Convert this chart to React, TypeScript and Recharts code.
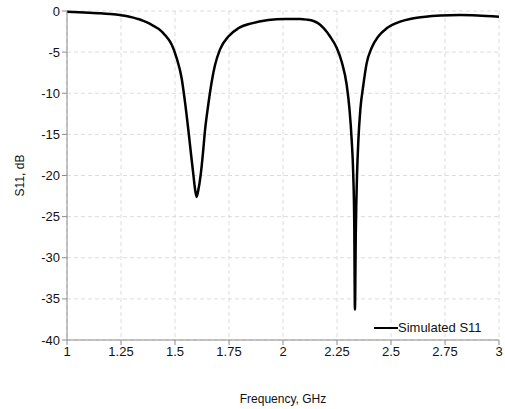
import React from 'react';
import { LineChart, Line, XAxis, YAxis, CartesianGrid } from 'recharts';

// Frequency points (GHz) and simulated S11 (dB)
const freqGHz = [
  1.0, 1.08, 1.153, 1.2, 1.245, 1.28, 1.307, 1.33, 1.353, 1.378, 1.4, 1.425, 1.446, 1.466, 1.485,
  1.508, 1.531, 1.545, 1.562, 1.575, 1.585, 1.593, 1.6, 1.607, 1.619, 1.629, 1.639, 1.654, 1.67,
  1.685, 1.708, 1.747, 1.793, 1.855, 1.932, 2.009, 2.079, 2.11, 2.141, 2.16, 2.187, 2.218, 2.249,
  2.272, 2.295, 2.308, 2.318, 2.325, 2.33, 2.333, 2.337, 2.343, 2.349, 2.358, 2.372, 2.387, 2.41,
  2.441, 2.48, 2.542, 2.588, 2.65, 2.73, 2.82, 2.9, 3.0,
];
const s11dB = [
  -0.1, -0.18, -0.28, -0.37, -0.49, -0.63, -0.81, -0.98, -1.2, -1.48, -1.8, -2.2, -2.7, -3.3, -4.1,
  -5.75, -8.2, -10.8, -14.5, -17.6, -19.9, -21.7, -22.6, -21.9, -19.9, -17.4, -14.5, -11.4, -8.6,
  -6.6, -4.7, -3.1, -2.1, -1.5, -1.1, -0.97, -0.97, -1.05, -1.22, -1.45, -2.05, -3.1, -4.5,
  -6.2, -9.0, -12.0, -15.7, -19.7, -26.0, -36.3, -27.0, -19.7, -15.7, -12.0, -9.0, -6.4, -4.5,
  -3.1, -2.1, -1.3, -0.97, -0.72, -0.55, -0.5, -0.55, -0.7,
];
const xTicks = [1, 1.25, 1.5, 1.75, 2, 2.25, 2.5, 2.75, 3];
const yTicks = [0, -5, -10, -15, -20, -25, -30, -35, -40];

const data = freqGHz.map((f, i) => ({ f, s11: s11dB[i] }));

const font = '"Liberation Sans", Arial, sans-serif';
const axisGrey = '#8c8c8c';

export default function App() {
  return (
    <div style={{ position: 'fixed', left: 0, top: 0, width: 505, height: 409, background: '#fff' }}>
      <LineChart width={505} height={409} data={data} margin={{ top: 11, right: 6, left: 0, bottom: 0 }}>
        <CartesianGrid stroke="#dcdcdc" strokeDasharray="4 3" />
        <XAxis
          dataKey="f"
          type="number"
          domain={[1, 3]}
          ticks={xTicks}
          tickFormatter={(v: number) => String(v)}
          height={69}
          stroke={axisGrey}
          tickSize={5}
          tick={{ fontSize: 13, fill: '#111', fontFamily: font }}
          label={{
            value: 'Frequency, GHz',
            position: 'insideBottom',
            offset: 6,
            style: { fontSize: 12, fill: '#111', fontFamily: font },
          }}
        />
        <YAxis
          type="number"
          domain={[-40, 0]}
          ticks={yTicks}
          width={67}
          stroke={axisGrey}
          tickSize={5}
          tick={{ fontSize: 13, fill: '#111', fontFamily: font }}
          label={{
            value: 'S11, dB',
            angle: -90,
            position: 'center',
            dx: -14,
            style: { fontSize: 12, fill: '#111', fontFamily: font },
          }}
        />
        <Line
          type="monotone"
          dataKey="s11"
          stroke="#000"
          strokeWidth={2.5}
          dot={false}
          isAnimationActive={false}
        />
      </LineChart>
      {/* legend sits inside the plot area, lower right */}
      <div
        style={{
          position: 'absolute',
          left: 374,
          top: 320,
          display: 'flex',
          alignItems: 'center',
          fontFamily: font,
          fontSize: 13,
          color: '#111',
          lineHeight: '16px',
        }}
      >
        <span style={{ display: 'inline-block', width: 24, height: 2.5, background: '#000' }} />
        <span>Simulated S11</span>
      </div>
    </div>
  );
}
